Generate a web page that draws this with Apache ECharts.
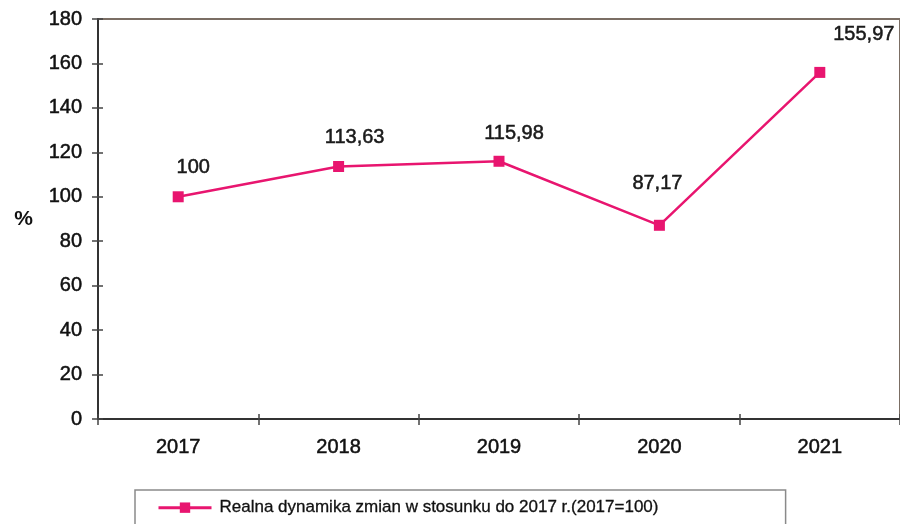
<!DOCTYPE html>
<html>
<head>
<meta charset="utf-8">
<script src="https://cdn.jsdelivr.net/npm/echarts@6/dist/echarts.min.js"></script>
<style>
  html, body { margin: 0; padding: 0; background: #ffffff; }
  #chart { width: 900px; height: 524px; }
</style>
</head>
<body>
<div id="chart"></div>
<script>
// Years on the category axis
const years = ['2017', '2018', '2019', '2020', '2021'];
// Real change index, 2017 = 100
const values = [100, 113.63, 115.98, 87.17, 155.97];
// Value axis range
const yMin = 0;
const yMax = 180;
const yStep = 20;
const seriesName = 'Realna dynamika zmian w stosunku do 2017 r.(2017=100)';

// Where each value label sits relative to its marker
const labelShift = [[15, -29], [16, -29], [15, -28], [-2, -42], [44, -38]];

const LINE = '#e8156f';
const FONT = '"Liberation Sans", Arial, sans-serif';

const fmt = v => String(v).replace('.', ',');

const chart = echarts.init(document.getElementById('chart'), null, { renderer: 'canvas' });

const tickStyle = { color: '#444', width: 1.5 };
// slightly heavier than regular weight
const heavy = { textBorderColor: '#111', textBorderWidth: 0.5 };

chart.setOption({
  backgroundColor: '#ffffff',
  animation: false,
  grid: {
    left: 98, top: 19, width: 803, height: 400,
    show: true, borderColor: '#7b6e64', borderWidth: 2, backgroundColor: 'transparent'
  },
  legend: {
    left: 135, top: 490,
    padding: [9, 127, 14, 22],
    borderColor: '#8a8a8a', borderWidth: 1.5, borderRadius: 0,
    backgroundColor: '#fff',
    itemWidth: 53, itemHeight: 13, itemGap: 0,
    lineStyle: { width: 3 },
    textStyle: { fontFamily: FONT, fontSize: 17, color: '#111', padding: [0, 0, 0, 3], textBorderColor: '#111', textBorderWidth: 0.3 },
    data: [seriesName]
  },
  xAxis: [
    {
      type: 'category', data: years, boundaryGap: true, position: 'bottom',
      axisLine: { lineStyle: { color: '#333', width: 2 } },
      axisTick: { show: true, length: 6, lineStyle: tickStyle },
      axisLabel: Object.assign({ fontFamily: FONT, fontSize: 20, color: '#111', margin: 18 }, heavy),
      splitLine: { show: false }
    },
    {
      type: 'category', data: years, boundaryGap: true, position: 'bottom',
      axisLine: { show: false },
      axisTick: { show: true, inside: true, length: 5, lineStyle: tickStyle },
      axisLabel: { show: false },
      splitLine: { show: false }
    }
  ],
  yAxis: [
    {
      type: 'value', min: yMin, max: yMax, interval: yStep,
      name: '%', nameLocation: 'middle', nameRotate: 0, nameGap: 65,
      nameTextStyle: { fontFamily: FONT, fontSize: 21, fontWeight: 'bold', color: '#111' },
      axisLine: { show: true, lineStyle: { color: '#333', width: 2 } },
      axisTick: { show: true, length: 6, lineStyle: tickStyle },
      axisLabel: Object.assign({ fontFamily: FONT, fontSize: 20, color: '#111', margin: 16 }, heavy),
      splitLine: { show: false }
    },
    {
      type: 'value', min: yMin, max: yMax, interval: yStep, position: 'left',
      axisLine: { show: false },
      axisTick: { show: true, inside: true, length: 5, lineStyle: tickStyle },
      axisLabel: { show: false },
      splitLine: { show: false }
    }
  ],
  series: [{
    name: seriesName,
    type: 'line',
    xAxisIndex: 0, yAxisIndex: 0,
    data: values.map((v, i) => ({
      value: v,
      label: { offset: labelShift[i] }
    })),
    symbol: 'rect', symbolSize: 11,
    lineStyle: { color: LINE, width: 2.5 },
    itemStyle: { color: LINE },
    label: Object.assign({
      show: true, position: 'inside',
      fontFamily: FONT, fontSize: 20, color: '#1a1a1a',
      formatter: p => fmt(p.value)
    }, heavy),
    z: 5
  }]
});
</script>
</body>
</html>
